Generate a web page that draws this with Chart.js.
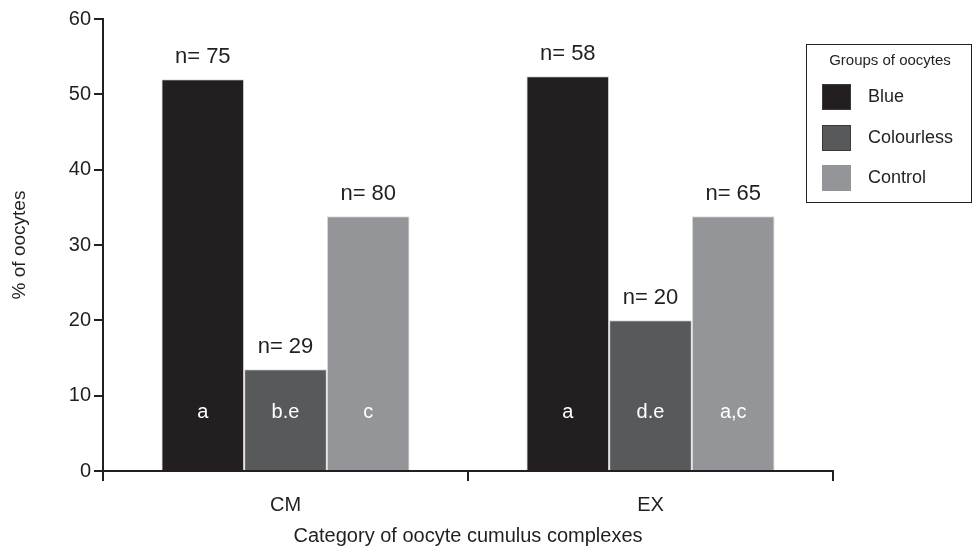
<!DOCTYPE html>
<html>
<head>
<meta charset="utf-8">
<script src="https://cdn.jsdelivr.net/npm/chart.js@4/dist/chart.umd.min.js"></script>
<style>
  html, body { margin: 0; padding: 0; background: #fff; }
  #wrap { width: 972px; height: 548px; }
</style>
</head>
<body>
<div id="wrap"><canvas id="chart" width="972" height="548"></canvas></div>
<script>
// Oocyte groups by cumulus complex category
const categories = ['CM', 'EX'];
const groupNames = ['Blue', 'Colourless', 'Control'];
const bluePct = [52.0, 52.4];
const colourlessPct = [13.5, 20.0];
const controlPct = [33.8, 33.8];
const blueN = [75, 58];
const colourlessN = [29, 20];
const controlN = [80, 65];
const blueLetters = ['a', 'a'];
const colourlessLetters = ['b.e', 'd.e'];
const controlLetters = ['c', 'a,c'];
const yTicks = [0, 10, 20, 30, 40, 50, 60];

const INK = '#231f20';
const FONT = "'Liberation Sans', Arial, Helvetica, sans-serif";
const fills = ['#231f20', '#58595b', '#939598'];

const seriesValues = [bluePct, colourlessPct, controlPct];
const seriesN = [blueN, colourlessN, controlN];
const seriesLetters = [blueLetters, colourlessLetters, controlLetters];

const datasets = groupNames.map((name, i) => ({
  label: name,
  data: seriesValues[i],
  backgroundColor: fills[i],
  borderColor: '#dcdcdd',
  borderWidth: 1,
  nLabels: seriesN[i],
  letters: seriesLetters[i]
}));

// Count labels above bars and significance letters inside them
const barText = {
  id: 'barText',
  afterDatasetsDraw(chart) {
    const ctx = chart.ctx;
    const y0 = chart.scales.y.getPixelForValue(0);
    ctx.save();
    ctx.textAlign = 'center';
    ctx.textBaseline = 'middle';
    chart.data.datasets.forEach((ds, di) => {
      chart.getDatasetMeta(di).data.forEach((bar, j) => {
        ctx.fillStyle = INK;
        ctx.font = '22px ' + FONT;
        ctx.fillText('n= ' + ds.nLabels[j], bar.x, bar.y - 22);
        ctx.fillStyle = '#ffffff';
        ctx.font = '20px ' + FONT;
        ctx.fillText(ds.letters[j], bar.x, y0 - 59);
      });
    });
    ctx.restore();
  }
};

// Boxed legend at the upper right
const boxLegend = {
  id: 'boxLegend',
  afterDraw(chart) {
    const ctx = chart.ctx;
    ctx.save();
    ctx.strokeStyle = INK;
    ctx.lineWidth = 1;
    ctx.strokeRect(806.5, 44.5, 165, 158);
    ctx.fillStyle = INK;
    ctx.textAlign = 'center';
    ctx.textBaseline = 'middle';
    ctx.font = '15px ' + FONT;
    ctx.fillText('Groups of oocytes', 890, 61);
    const rows = [97, 138, 178];
    chart.data.datasets.forEach((ds, i) => {
      ctx.fillStyle = ds.backgroundColor;
      ctx.fillRect(822, rows[i] - 13, 29, 26);
      if (i < 2) {
        ctx.strokeStyle = '#3a3a3a';
        ctx.strokeRect(822.5, rows[i] - 12.5, 28, 25);
      }
      ctx.fillStyle = INK;
      ctx.textAlign = 'left';
      ctx.font = '18px ' + FONT;
      ctx.fillText(ds.label, 868, rows[i]);
    });
    ctx.restore();
  }
};

new Chart(document.getElementById('chart'), {
  type: 'bar',
  data: { labels: categories, datasets },
  plugins: [barText, boxLegend],
  options: {
    responsive: false,
    animation: false,
    layout: { padding: { left: 0, top: 19, right: 139, bottom: 0 } },
    plugins: { legend: { display: false }, tooltip: { enabled: false } },
    datasets: { bar: { categoryPercentage: 0.68, barPercentage: 1.0 } },
    scales: {
      x: {
        offset: true,
        afterFit(scale) { scale.height = 77; },
        border: { display: true, color: INK, width: 2 },
        grid: { offset: true, drawOnChartArea: false, drawTicks: true, tickLength: 10, color: INK, lineWidth: 2 },
        ticks: { color: INK, font: { family: FONT, size: 20 }, padding: 12 },
        title: { display: true, text: 'Category of oocyte cumulus complexes', color: INK, font: { family: FONT, size: 20 }, padding: { top: 0, bottom: 0 } }
      },
      y: {
        min: 0,
        max: 60,
        afterFit(scale) { scale.width = 103; },
        afterBuildTicks(scale) { scale.ticks = yTicks.map(v => ({ value: v })); },
        border: { display: true, color: INK, width: 2 },
        grid: { drawOnChartArea: false, drawTicks: true, tickLength: 9, color: INK, lineWidth: 2 },
        ticks: { color: INK, font: { family: FONT, size: 20 }, padding: 3 },
        title: { display: true, text: '% of oocytes', color: INK, font: { family: FONT, size: 19 }, padding: { top: 8, bottom: 0 } }
      }
    }
  }
});
</script>
</body>
</html>
